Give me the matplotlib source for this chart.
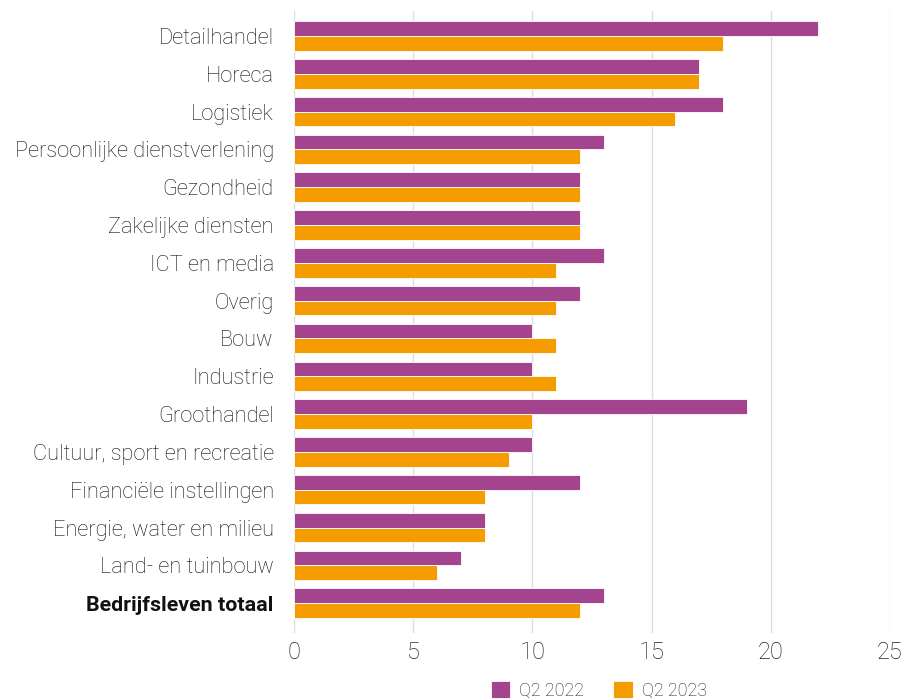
import numpy as np
import matplotlib.pyplot as plt

plt.rcParams['font.family'] = ['Roboto', 'DejaVu Sans']

categories = [
    "Detailhandel", "Horeca", "Logistiek", "Persoonlijke dienstverlening",
    "Gezondheid", "Zakelijke diensten", "ICT en media", "Overig", "Bouw",
    "Industrie", "Groothandel", "Cultuur, sport en recreatie",
    "Financiële instellingen", "Energie, water en milieu",
    "Land- en tuinbouw", "Bedrijfsleven totaal",
]
q2_2022 = [22, 17, 18, 13, 12, 12, 13, 12, 10, 10, 19, 10, 12, 8, 7, 13]
q2_2023 = [18, 17, 16, 12, 12, 12, 11, 11, 11, 11, 10, 9, 8, 8, 6, 12]
series_labels = ["Q2 2022", "Q2 2023"]
xticks = [0, 5, 10, 15, 20, 25]

PURPLE = "#A4448F"
ORANGE = "#F59C00"

fig = plt.figure(figsize=(9.06, 7.0), dpi=100)
ax = fig.add_axes([294 / 906, 1 - 633 / 700, (890 - 294) / 906, (633 - 11) / 700])

y = np.arange(len(categories))
h = 0.39
ax.barh(y - h / 2, q2_2022, height=h, color=PURPLE, label=series_labels[0],
        edgecolor="white", linewidth=0.6, zorder=3)
ax.barh(y + h / 2, q2_2023, height=h, color=ORANGE, label=series_labels[1],
        edgecolor="white", linewidth=0.6, zorder=3)

ax.set_xlim(0, 25)
ax.set_ylim(len(categories) - 1 + 0.79, -0.66)
ax.set_xticks(xticks)
ax.set_xticklabels([str(t) for t in xticks], fontsize=17, fontweight="light", color="#222222")
ax.set_yticks(y)
ax.set_yticklabels(categories, fontsize=15.7, fontweight="light", color="#111111")
last = ax.get_yticklabels()[-1]
last.set_fontweight("bold")
last.set_fontsize(15.4)
ax.tick_params(axis="both", length=0)
ax.tick_params(axis="y", pad=14.5)
ax.tick_params(axis="x", pad=6)

for s in ax.spines.values():
    s.set_visible(False)
ax.grid(axis="x", color="#dddddd", linewidth=1, zorder=0)
ax.set_axisbelow(True)

leg = fig.legend(loc="center", bbox_to_anchor=(599 / 906, 1 - 690 / 700), ncol=2,
                 frameon=False, handlelength=1.1, handleheight=1.1,
                 columnspacing=1.6, handletextpad=0.5,
                 prop={"family": "Roboto", "weight": "light", "size": 13})
for t in leg.get_texts():
    t.set_color("#222222")

plt.savefig("out.png", dpi=100)
